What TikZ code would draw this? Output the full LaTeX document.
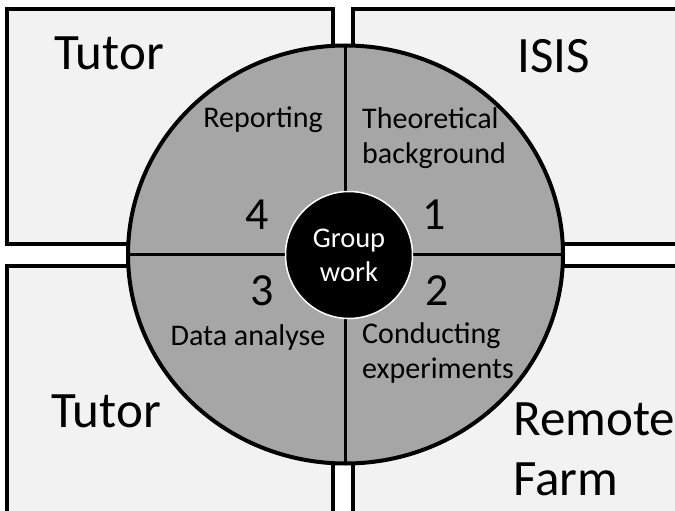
\documentclass[tikz,border=0pt]{standalone}
\usepackage{fontspec}
\setmainfont{Carlito}
\usetikzlibrary{shapes.geometric}
\definecolor{boxfill}{HTML}{F2F2F2}
\definecolor{ringfill}{HTML}{A6A6A6}
\begin{document}
\begin{tikzpicture}[x=1pt,y=-1pt,
  zone/.style={draw=black, line width=3.7pt, fill=boxfill, rectangle, inner sep=0pt, outer sep=0pt},
  big/.style={font=\fontsize{51}{60}\selectfont, inner sep=0pt},
  lab/.style={font=\fontsize{30}{35}\selectfont, inner sep=0pt},
  hubtext/.style={font=\fontsize{28.5}{34}\selectfont, text=white, align=center},
  num/.style={font=\fontsize{46}{50}\selectfont, inner sep=0pt},
  divider/.style={line width=3.5pt}
]
\useasboundingbox (0,0) rectangle (675,511);
\clip (0,0) rectangle (675,511);
\fill[white] (0,0) rectangle (675,511);
% quadrant boxes
\node[zone, minimum width=326pt, minimum height=235pt] (tl) at (170,126.5) {};
\node[zone, minimum width=347pt, minimum height=235pt] (tr) at (526.5,126.5) {};
\node[zone, minimum width=326pt, minimum height=264pt] (bl) at (170,398) {};
\node[zone, minimum width=347pt, minimum height=264pt] (br) at (526.5,398) {};
% big ring
\node[draw=black, line width=4pt, fill=ringfill, ellipse, minimum width=435pt, minimum height=418pt, inner sep=0pt, outer sep=0pt] (ring) at (345.5,254.5) {};
\draw[divider] (ring.north) -- (ring.south);
\draw[divider] (ring.west) -- (ring.east);
% hub
\node[circle, fill=black, draw=white, line width=1.5pt, minimum size=127pt, inner sep=0pt, hubtext] (hub) at (349,255) {Group\\work};
% box titles
\node[big, anchor=base] (tutorA) at (109,70) {Tutor};
\node[big, anchor=base] (isis) at (554,73) {ISIS};
\node[big, anchor=base] (tutorB) at (106,427) {Tutor};
\node[big, anchor=base west, align=left] (farm) at (513,495) {Remote\\Farm};
% numbers
\node[num, anchor=base] (n4) at (257,229) {4};
\node[num, anchor=base] (n1) at (434,229) {1};
\node[num, anchor=base] (n3) at (262,305) {3};
\node[num, anchor=base] (n2) at (437,305) {2};
% step labels
\node[lab, anchor=base] (rep) at (263,128) {Reporting};
\node[lab, anchor=base west, align=left] (theo) at (362,163) {Theoretical\\background};
\node[lab, anchor=base] (data) at (248,345) {Data analyse};
\node[lab, anchor=base west, align=left] (cond) at (362,378) {Conducting\\experiments};
\end{tikzpicture}
\end{document}
